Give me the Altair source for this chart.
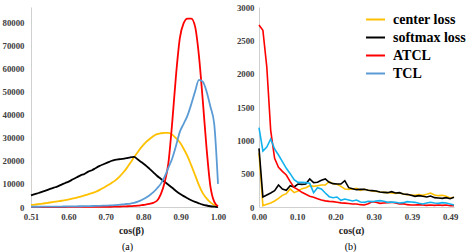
import json
import altair as alt
import pandas as pd

# ---------------- data ----------------
series_names = ["center loss", "softmax loss", "ATCL", "TCL"]
colors_a = ["#FFC000", "#000000", "#FF0000", "#5B9BD5"]
colors_b = ["#FFC000", "#000000", "#FF0000", "#12B2EE"]

# panel (a): distribution over cos(beta), 0.51 ... 1.00
cos_beta = [round(0.51 + 0.01 * i, 2) for i in range(50)]
center_a = [900, 1050, 1250, 1450, 1700, 1950, 2200, 2450, 2700, 3000,
            3300, 3700, 4050, 4500, 5000, 5500, 6000, 6600, 7400, 8300,
            9300, 10300, 11400, 12800, 14600, 16600, 19000, 21500, 23800, 26000,
            27800, 29300, 30600, 31500, 31900, 32100, 32100, 31300, 29800, 28000,
            25200, 22000, 18000, 13800, 9500, 6000, 3700, 2000, 900, 200]
softmax_a = [5050, 5600, 6060, 6640, 7220, 7800, 8370, 8950, 9670, 10400,
             11100, 12000, 12850, 13700, 14300, 15300, 15900, 16900, 17800, 18500,
             19200, 19900, 20400, 20650, 20800, 21100, 21500, 21700, 20500, 19350,
             18050, 16600, 15100, 13500, 12200, 10900, 9600, 8300, 6900, 5700,
             4700, 3800, 2900, 2200, 1600, 1050, 650, 330, 130, 0]
atcl_a = [0, 0, 0, 0, 0, 0, 0, 0, 0, 0,
          50, 50, 50, 50, 50, 50, 50, 80, 80, 80,
          100, 100, 150, 200, 250, 300, 350, 450, 600, 800,
          1000, 1300, 1800, 2700, 5500, 10500, 19000, 36500, 57000, 73000,
          79500, 81500, 81500, 78000, 65500, 46300, 25500, 9000, 2300, 300]
tcl_a = [100, 100, 110, 120, 130, 150, 160, 180, 200, 220,
         250, 270, 300, 330, 360, 400, 430, 470, 520, 560,
         600, 700, 800, 950, 1100, 1300, 1500, 1800, 2300, 3000,
         3900, 5000, 6300, 8000, 10000, 13000, 17000, 21000, 26500, 32500,
         36000, 39500, 44500, 50000, 55000, 54200, 50000, 43500, 36000, 10000]

# panel (b): distribution over cos(alpha), 0.00 ... 0.50
cos_alpha = [round(0.01 * i, 2) for i in range(51)]
center_b = [810, 20, 40, 60, 90, 130, 175, 200, 270, 215,
            240, 275, 290, 320, 310, 320, 330, 330, 380, 350,
            340, 310, 270, 265, 270, 280, 250, 265, 250, 240,
            235, 225, 220, 215, 210, 205, 210, 195, 185, 180,
            175, 185, 175, 190, 210, 180, 170, 175, 160, 135, 145]
softmax_b = [880, 150, 180, 210, 245, 330, 270, 250, 320, 300,
             345, 340, 345, 420, 365, 370, 400, 420, 370, 350,
             345, 345, 395, 290, 275, 260, 265, 265, 250, 245,
             240, 225, 220, 215, 230, 210, 215, 195, 190, 175,
             160, 170, 160, 150, 165, 140, 135, 130, 140, 125, 145]
atcl_b = [2730, 2650, 2100, 1150, 730, 594, 535, 480, 380, 295,
          260, 220, 190, 162, 145, 125, 105, 92, 85, 80,
          72, 62, 58, 52, 46, 45, 35, 30, 50, 80,
          70, 55, 60, 65, 70, 60, 45, 50, 35, 30,
          30, 35, 30, 25, 30, 25, 30, 25, 30, 20, 20]
tcl_b = [1190, 840, 900, 1020, 870, 780, 680, 580, 500, 410,
         370, 370, 365, 355, 215, 290, 270, 210, 155, 140,
         150, 100, 120, 105, 90, 105, 75, 70, 85, 80,
         90, 95, 85, 70, 75, 70, 60, 65, 80, 75,
         70, 55, 45, 60, 70, 60, 55, 65, 60, 45, 30]

tick_labels_a = ["0.51", "0.60", "0.70", "0.80", "0.90", "1.00"]
tick_labels_b = ["0.00", "0.10", "0.20", "0.30", "0.39", "0.49"]


def long_table(xs, columns):
    rows = []
    for name, vals in zip(series_names, columns):
        for x, v in zip(xs, vals):
            rows.append({"cos": x, "count": v, "series": name})
    return pd.DataFrame(rows)


df_a = long_table(cos_beta, [center_a, softmax_a, atcl_a, tcl_a])
df_b = long_table(cos_alpha, [center_b, softmax_b, atcl_b, tcl_b])

# category-style tick positions: evenly spaced across the labelled range
ticks_a = [0.51 + k * (1.00 - 0.51) / 5 for k in range(6)]
ticks_b = [k * 0.49 / 5 for k in range(6)]
expr_a = f"{json.dumps(tick_labels_a)}[round((datum.value - 0.51) / 0.098)]"
expr_b = f"{json.dumps(tick_labels_b)}[round(datum.value / 0.098)]"

FONT = "Liberation Serif"
axis_style = dict(
    labelFont=FONT, labelFontWeight="bold", labelFontSize=8.8, labelColor="#404040",
    ticks=False, grid=False, domainColor="#D0D0D0", domainWidth=1,
    titleFont=FONT, titleFontWeight="bold", titleFontSize=10, titleColor="#222222",
    labelFlush=False, labelOverlap=False, labelBound=False,
)

W_A, W_B, H = 187, 195, 200

left = alt.Chart(df_a).mark_line(interpolate="monotone", strokeWidth=1.8).encode(
    x=alt.X("cos:Q", scale=alt.Scale(domain=[0.51, 1.00], nice=False, zero=False),
            axis=alt.Axis(values=ticks_a, labelExpr=expr_a, title="cos(β)",
                          labelPadding=5, titlePadding=5, titleX=100, **axis_style)),
    y=alt.Y("count:Q", scale=alt.Scale(domain=[0, 86500], nice=False),
            axis=alt.Axis(values=list(range(0, 80001, 10000)), format="d", title=None,
                          labelPadding=7, **axis_style)),
    color=alt.Color("series:N", sort=series_names,
                    scale=alt.Scale(domain=series_names, range=colors_a),
                    legend=alt.Legend(orient="none", legendX=334, legendY=2, title=None,
                                      symbolType="stroke", symbolSize=361, symbolStrokeWidth=2,
                                      labelFont=FONT, labelFontWeight="bold", labelFontSize=14,
                                      labelColor="black", labelOffset=7, rowPadding=0)),
).properties(
    width=W_A, height=H,
    title=alt.TitleParams("(a)", orient="bottom", anchor="middle", frame="group",
                          font=FONT, fontSize=10, fontWeight="normal", color="black",
                          offset=6, dx=3),
)

right = alt.Chart(df_b).mark_line(strokeWidth=1.6).encode(
    x=alt.X("cos:Q", scale=alt.Scale(domain=[0, 0.50], nice=False, zero=False),
            axis=alt.Axis(values=ticks_b, labelExpr=expr_b, title="cos(α)",
                          labelPadding=5, titlePadding=5, titleX=92, **axis_style)),
    y=alt.Y("count:Q", scale=alt.Scale(domain=[0, 3000], nice=False),
            axis=alt.Axis(values=list(range(0, 3001, 500)), format="d", title=None,
                          labelPadding=5, **axis_style)),
    color=alt.Color("series:N", sort=series_names,
                    scale=alt.Scale(domain=series_names, range=colors_b), legend=None),
).properties(
    width=W_B, height=H,
    title=alt.TitleParams("(b)", orient="bottom", anchor="middle", frame="group",
                          font=FONT, fontSize=10, fontWeight="normal", color="black",
                          offset=6, dx=-6),
)

chart = alt.hconcat(left, right, spacing=41, bounds="flush").resolve_scale(
    color="independent"
).properties(
    padding={"left": 2, "top": 3, "right": 5, "bottom": 1},
    background="white",
).configure_view(stroke=None)

chart.save("out.html", embed_options={"renderer": "svg", "actions": False})
